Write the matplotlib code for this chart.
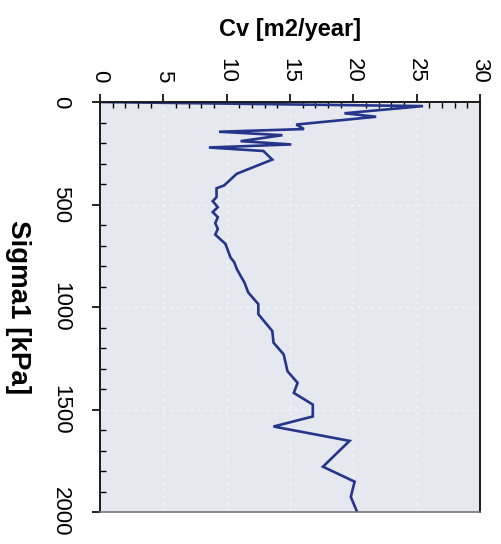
import numpy as np
import matplotlib
matplotlib.use("Agg")
import matplotlib.pyplot as plt
from matplotlib.ticker import MultipleLocator

plt.rcParams['font.family'] = ['Liberation Sans', 'DejaVu Sans']

# Cv against Sigma1
sigma1 = [0, 20, 55, 72, 110, 132, 145, 162, 191, 207, 222, 239, 281, 350,
          407, 421, 464, 484, 513, 537, 562, 591, 619, 647, 692, 725, 758,
          782, 815, 848, 880, 929, 986, 1035, 1117, 1174, 1231, 1313, 1370,
          1419, 1476, 1534, 1583, 1653, 1779, 1852, 1926, 2000]
cv = [0, 25.5, 19.3, 21.8, 15.5, 16.1, 9.4, 14.4, 11.1, 15.1, 8.6, 12.9,
      13.6, 10.8, 9.8, 9.2, 9.2, 8.9, 9.3, 8.9, 9.3, 9.1, 9.3, 9.1, 9.9,
      10.1, 10.3, 10.6, 10.8, 11.1, 11.4, 11.7, 12.5, 12.5, 13.6, 13.7,
      14.5, 14.8, 15.6, 15.3, 16.8, 16.8, 13.7, 19.7, 17.6, 20.1, 19.8, 20.3]

cv_ticks = [0, 5, 10, 15, 20, 25, 30]
sigma_ticks = [0, 500, 1000, 1500, 2000]

fig = plt.figure(figsize=(5.01, 5.44), dpi=100)
ax = fig.add_axes([0.1996, 0.0588, 0.7585, 0.7537])
ax.set_facecolor('#e5e8ef')

ax.plot(cv, sigma1, color='#25358a', lw=1.9, solid_joinstyle='miter')

ax.set_xlim(0, 30)
ax.set_ylim(2000, 0)
ax.xaxis.tick_top()
ax.xaxis.set_label_position('top')
ax.set_xticks(cv_ticks)
ax.set_yticks(sigma_ticks)
ax.xaxis.set_minor_locator(MultipleLocator(1))
ax.yaxis.set_minor_locator(MultipleLocator(100))

ax.tick_params(which='major', direction='out', length=6, width=1.2, labelsize=16)
ax.tick_params(axis='x', which='major', pad=8)
ax.tick_params(axis='y', which='major', pad=15)
ax.tick_params(which='minor', direction='in', length=4, width=1.0)
for lbl in ax.get_xticklabels() + ax.get_yticklabels():
    lbl.set_rotation(-90)
for lbl in ax.get_xticklabels():
    lbl.set_va('bottom')
for lbl in ax.get_yticklabels():
    lbl.set_va('center')

ax.grid(True, which='major', color='#f6f7fa', linestyle=(0, (2, 3)), lw=1.0)

ax.set_xlabel('Cv [m2/year]', fontsize=17, fontweight='bold')
ax.xaxis.set_label_coords(0.5, 1.176)
ax.xaxis.label.set_va('center')
ax.set_ylabel('Sigma1 [kPa]', fontsize=20, fontweight='bold', rotation=-90,
              va='center', ha='center')
ax.yaxis.set_label_coords(-0.216, 0.5)

for side in ['left', 'top', 'right']:
    ax.spines[side].set_color('#1a1a1a')
    ax.spines[side].set_linewidth(1.4)
ax.spines['bottom'].set_color('#777777')
ax.spines['bottom'].set_linewidth(1.2)

fig.savefig('out.png', dpi=100)
